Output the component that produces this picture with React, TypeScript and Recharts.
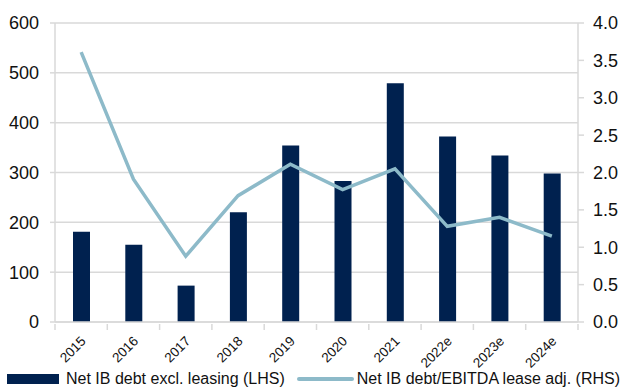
import React from 'react';
import { ComposedChart, Bar, Line, XAxis, YAxis, CartesianGrid, Legend } from 'recharts';

// Years on the category axis
const years = ['2015', '2016', '2017', '2018', '2019', '2020', '2021', '2022e', '2023e', '2024e'];
// Net interest-bearing debt excluding leasing (left axis)
const netDebt = [181, 155, 73, 220, 354, 283, 479, 372, 334, 298];
// Net IB debt / EBITDA, lease adjusted (right axis)
const leverage = [3.61, 1.91, 0.88, 1.69, 2.11, 1.77, 2.05, 1.28, 1.4, 1.15];

const leftTicks = [0, 100, 200, 300, 400, 500, 600];
const rightTicks = [0, 0.5, 1, 1.5, 2, 2.5, 3, 3.5, 4];

const data = years.map((year, i) => ({ year, debt: netDebt[i], ratio: leverage[i] }));

const FONT = '"Liberation Sans", Arial, Helvetica, sans-serif';
const NAVY = '#00214f';
const TEAL = '#8dbac9';
const GRID = '#d9d9d9';
const TEXT = '#111111';

// Category labels sit diagonally; tick marks fall on the category boundaries
function renderXTick(props: any) {
  const { x, y, payload, index } = props;
  const half = payload && typeof payload.offset === 'number' && payload.offset > 0 ? payload.offset : 26.15;
  const isLast = index === years.length - 1;
  return (
    <g key={`xt-${index}`}>
      <line x1={x - half} x2={x - half} y1={y} y2={y + 6} stroke={GRID} strokeWidth={1.5} />
      {isLast && <line x1={x + half} x2={x + half} y1={y} y2={y + 6} stroke={GRID} strokeWidth={1.5} />}
      <text
        x={0}
        y={0}
        transform={`translate(${x + 5.5},${y + 18}) rotate(-45)`}
        textAnchor="end"
        fontSize={13.5}
        fontFamily={FONT}
        fill={TEXT}
      >
        {payload.value}
      </text>
    </g>
  );
}

function renderLegend() {
  return (
    <div
      style={{
        display: 'flex',
        alignItems: 'center',
        height: 20,
        fontFamily: FONT,
        fontSize: 16,
        lineHeight: '20px',
        color: TEXT,
        whiteSpace: 'nowrap',
      }}
    >
      <span style={{ display: 'inline-block', width: 52, height: 10, background: NAVY, marginLeft: 7, marginRight: 7 }} />
      <span>Net IB debt excl. leasing (LHS)</span>
      <span
        style={{
          display: 'inline-block',
          width: 57,
          height: 4,
          borderRadius: 2,
          background: TEAL,
          marginLeft: 12,
          marginRight: 3,
        }}
      />
      <span>Net IB debt/EBITDA lease adj. (RHS)</span>
    </div>
  );
}

export default function App() {
  return (
    <div style={{ position: 'absolute', left: 0, top: 0, width: 628, height: 388, background: '#fff' }}>
      <ComposedChart
        width={628}
        height={388}
        data={data}
        margin={{ top: 23, right: 0, bottom: 0, left: 0 }}
        barSize={17}
      >
        <CartesianGrid vertical={false} stroke={GRID} strokeWidth={1.5} />
        <XAxis
          dataKey="year"
          height={46}
          tickSize={0}
          tickLine={false}
          axisLine={{ stroke: GRID, strokeWidth: 1.5 }}
          tick={renderXTick}
          interval={0}
        />
        <YAxis
          width={55}
          domain={[0, 600]}
          ticks={leftTicks}
          tickSize={5}
          tickMargin={11}
          axisLine={{ stroke: GRID, strokeWidth: 1.5 }}
          tickLine={{ stroke: GRID, strokeWidth: 1.5 }}
          tick={{ fontSize: 18, fontFamily: FONT, fill: TEXT }}
        />
        <YAxis
          yAxisId="right"
          orientation="right"
          width={50}
          domain={[0, 4]}
          ticks={rightTicks}
          tickFormatter={(v: number) => v.toFixed(1)}
          tickSize={6}
          tickMargin={9}
          axisLine={{ stroke: GRID, strokeWidth: 1.5 }}
          tickLine={{ stroke: GRID, strokeWidth: 1.5 }}
          tick={{ fontSize: 18, fontFamily: FONT, fill: TEXT }}
        />
        <Bar dataKey="debt" name="Net IB debt excl. leasing (LHS)" fill={NAVY} isAnimationActive={false} />
        <Line
          yAxisId="right"
          dataKey="ratio"
          name="Net IB debt/EBITDA lease adj. (RHS)"
          stroke={TEAL}
          strokeWidth={3.5}
          dot={false}
          activeDot={false}
          type="linear"
          isAnimationActive={false}
        />
        <Legend
          layout="horizontal"
          verticalAlign="bottom"
          align="left"
          content={renderLegend}
          wrapperStyle={{ left: 0, top: 369, width: 628, height: 20 }}
        />
      </ComposedChart>
    </div>
  );
}
